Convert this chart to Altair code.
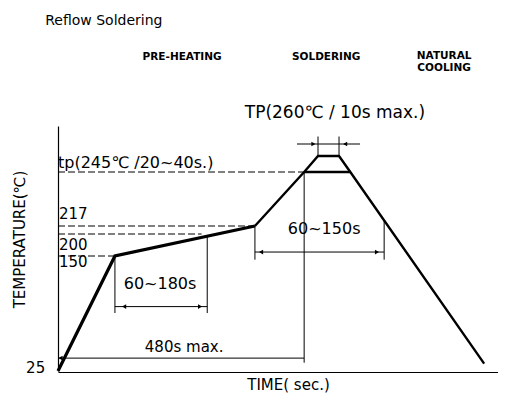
import altair as alt
import pandas as pd

FONT = "DejaVu Sans"

# ---- profile (schematic time in s, temperature in degC)
heat_t = [0, 111, 384]
heat_c = [25, 150, 217]
peak_t = [384, 480, 507, 548, 570, 831]
peak_c = [217, 245, 260, 260, 245, 33]

# tp solid line at 245
tp_t1, tp_t2, tp_level = [480], [570], [245]

# dashed level lines
level_c = [150, 200, 217, 245]
level_end_t = [111, 280, 384, 480]

# thin dimension lines
dim_t1 = [111, 291, 111, 0, 480, 384, 636, 384, 507, 548, 466]
dim_c1 = [150, 195, 95, 39, 245, 217, 220, 159, 260, 260, 268]
dim_t2 = [111, 291, 291, 480, 480, 384, 636, 636, 507, 548, 589]
dim_c2 = [88, 88, 95, 39, 34, 146, 146, 159, 273, 273, 268]

# arrow heads
arrow_t = [129, 277, 396, 622, 498, 560, 5]
arrow_c = [95, 95, 159, 159, 268, 268, 39]
arrow_shape = ["triangle-left", "triangle-right", "triangle-left", "triangle-right",
               "triangle-right", "triangle-left", "triangle-left"]

# labels
left_text = ["tp(245℃  /20~40s.)", "217", "200", "150"]
left_t = [0, 2, 2, 2]
left_c = [253, 223, 175, 143.5]
left_size = [16, 15, 15, 15]

center_text = ["60~180s", "480s max.", "60~150s", "TP(260℃ / 10s max.)"]
center_t = [199, 246, 519, 540]
center_c = [120, 51, 211, 289]
center_size = [16, 15, 16, 17]

phase_text = ["PRE-HEATING", "SOLDERING", "NATURAL", "COOLING"]
phase_t = [242, 523, 753, 753]
phase_c = [326, 326, 327, 319]

y25_text, y25_t, y25_c = ["25"], [-25], [28]
title_text, title_t, title_c = ["Reflow Soldering"], [-25], [350]

xs = alt.Scale(domain=[0, 858], nice=False, zero=False)
ys = alt.Scale(domain=[25, 150, 200, 217, 245, 260, 280],
               range=[245, 130, 108, 100, 46, 30, 0], nice=False, zero=False)

xaxis = alt.Axis(title="TIME( sec.)", orient="bottom", labels=False, ticks=False, grid=False,
                 domainColor="black", domainWidth=1.2, titleFont=FONT, titleFontSize=15,
                 titleFontWeight="normal", titleColor="black", titleX=230, titleY=17,
                 titleBaseline="alphabetic", titleAlign="center")
yaxis = alt.Axis(title="TEMPERATURE(℃)", orient="left", labels=False, ticks=False, grid=False,
                 domainColor="black", domainWidth=1.2, titleFont=FONT, titleFontSize=15,
                 titleFontWeight="normal", titleColor="black", titleX=-34, titleY=113,
                 titleAngle=270, titleBaseline="alphabetic", titleAlign="center")


def X(f):
    return alt.X(f, type="quantitative", scale=xs, axis=xaxis)


def Y(f):
    return alt.Y(f, type="quantitative", scale=ys, axis=yaxis)


levels = pd.DataFrame({"t1": [0] * len(level_c), "t2": level_end_t, "c": level_c})
dashed = alt.Chart(levels).mark_rule(color="black", strokeWidth=1, strokeDash=[7, 3]).encode(
    x=X("t1"), x2="t2", y=Y("c"))

dims = pd.DataFrame({"t1": dim_t1, "c1": dim_c1, "t2": dim_t2, "c2": dim_c2})
thin = alt.Chart(dims).mark_rule(color="black", strokeWidth=1).encode(
    x=X("t1"), y=Y("c1"), x2="t2", y2="c2")

tpdf = pd.DataFrame({"t1": tp_t1, "t2": tp_t2, "c": tp_level})
tpline = alt.Chart(tpdf).mark_rule(color="black", strokeWidth=2.5).encode(
    x=X("t1"), x2="t2", y=Y("c"))

heat = alt.Chart(pd.DataFrame({"t": heat_t, "c": heat_c})).mark_line(
    color="black", strokeWidth=3.2).encode(x=X("t"), y=Y("c"))
peak = alt.Chart(pd.DataFrame({"t": peak_t, "c": peak_c})).mark_line(
    color="black", strokeWidth=2.4, strokeJoin="miter").encode(x=X("t"), y=Y("c"))

arrows = alt.Chart(pd.DataFrame({"t": arrow_t, "c": arrow_c, "s": arrow_shape})).mark_point(
    filled=True, color="black", size=22, opacity=1).encode(
    x=X("t"), y=Y("c"), shape=alt.Shape("s:N", scale=None))


def text_layer(texts, ts, cs, align, size, weight="normal", sizes=None):
    df = pd.DataFrame({"t": ts, "c": cs, "label": texts})
    enc = dict(x=X("t"), y=Y("c"), text="label:N")
    if sizes is not None:
        df["sz"] = sizes
        enc["size"] = alt.Size("sz:Q", scale=None)
    return alt.Chart(df).mark_text(align=align, baseline="middle", font=FONT,
                                   fontSize=size, fontWeight=weight, color="black").encode(**enc)


t_left = text_layer(left_text, left_t, left_c, "left", 15, sizes=left_size)
t_center = text_layer(center_text, center_t, center_c, "center", 16, sizes=center_size)
t_phase = text_layer(phase_text, phase_t, phase_c, "center", 10.5, weight="bold")
t_25 = text_layer(y25_text, y25_t, y25_c, "right", 15)
t_title = text_layer(title_text, title_t, title_c, "left", 14)

chart = alt.layer(dashed, thin, tpline, heat, peak, arrows,
                  t_left, t_center, t_phase, t_25, t_title).properties(
    width=440, height=246,
    background="white",
    autosize=alt.AutoSizeParams(type="none"),
    padding={"left": 50, "top": 118, "right": 0, "bottom": 21},
).configure_view(stroke=None)

chart.save("out.html", embed_options={"renderer": "svg", "actions": False})
